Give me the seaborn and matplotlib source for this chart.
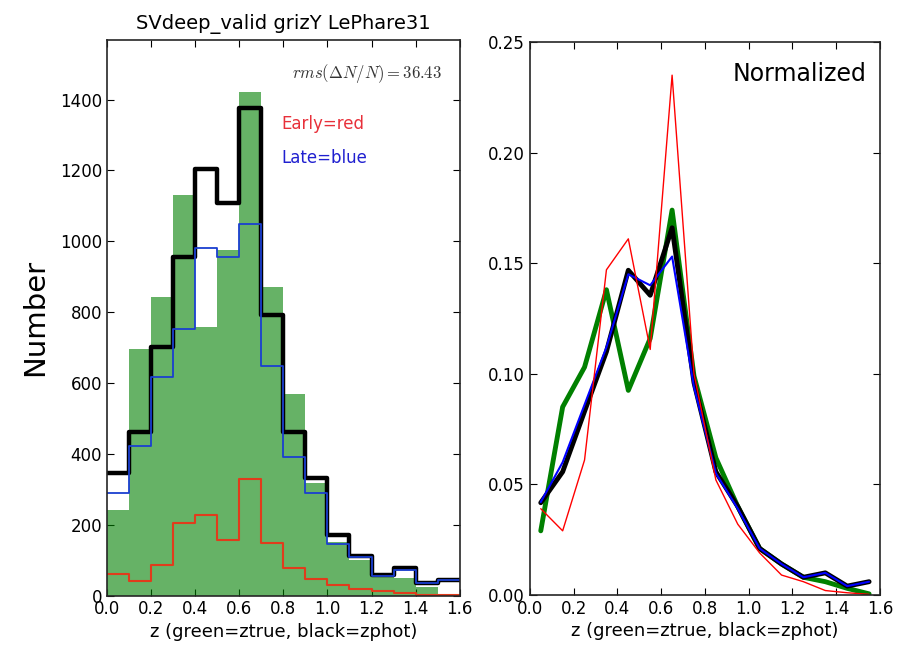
import numpy as np
import pandas as pd
import matplotlib
matplotlib.use("Agg")
import matplotlib.pyplot as plt
import seaborn as sns

# bins in redshift
edges = [0.0, 0.1, 0.2, 0.3, 0.4, 0.5, 0.6, 0.7, 0.8, 0.9, 1.0, 1.1, 1.2, 1.3, 1.4, 1.5, 1.6]
centers = [0.05, 0.15, 0.25, 0.35, 0.45, 0.55, 0.65, 0.75, 0.85, 0.95, 1.05, 1.15, 1.25, 1.35, 1.45, 1.55]

# left panel: counts per bin
n_true = [242, 697, 842, 1130, 758, 975, 1420, 870, 569, 318, 150, 100, 60, 50, 25, 0]
n_phot = [346, 462, 701, 955, 1205, 1107, 1375, 791, 462, 332, 172, 113, 59, 79, 37, 45]
n_late = [290, 422, 617, 752, 980, 955, 1050, 648, 392, 290, 146, 110, 54, 73, 36, 45]
n_early = [62, 42, 87, 205, 228, 158, 329, 149, 79, 48, 31, 20, 14, 8, 3, 1]

# right panel: normalized
f_true = [0.029, 0.085, 0.103, 0.138, 0.0925, 0.116, 0.174, 0.099, 0.062, 0.040, 0.021, 0.014, 0.008, 0.006, 0.003, 0.0005]
f_phot = [0.0417, 0.0557, 0.083, 0.110, 0.1468, 0.1355, 0.166, 0.096, 0.0557, 0.040, 0.021, 0.014, 0.008, 0.010, 0.004, 0.006]
f_late = [0.042, 0.060, 0.086, 0.112, 0.145, 0.140, 0.153, 0.094, 0.055, 0.039, 0.021, 0.014, 0.008, 0.010, 0.004, 0.006]
f_early = [0.039, 0.029, 0.061, 0.147, 0.161, 0.111, 0.235, 0.100, 0.052, 0.032, 0.019, 0.009, 0.006, 0.002, 0.001, 0.0003]

sns.set_style("ticks")
plt.rcParams['font.family'] = ['DejaVu Sans']
plt.rcParams['xtick.direction'] = 'in'
plt.rcParams['ytick.direction'] = 'in'
plt.rcParams['xtick.top'] = True
plt.rcParams['ytick.right'] = True
plt.rcParams['xtick.major.size'] = 5
plt.rcParams['ytick.major.size'] = 5
plt.rcParams['xtick.color'] = 'black'
plt.rcParams['ytick.color'] = 'black'
plt.rcParams['axes.labelcolor'] = 'black'
plt.rcParams['text.color'] = 'black'
plt.rcParams['axes.linewidth'] = 1.2

df = pd.DataFrame({'z': centers, 'true': n_true, 'phot': n_phot,
                   'late': n_late, 'early': n_early,
                   'ftrue': f_true, 'fphot': f_phot, 'flate': f_late, 'fearly': f_early})

fig = plt.figure(figsize=(8.98, 6.46), dpi=100)
ax1 = fig.add_axes([0.119, 0.078, 0.393, 0.860])
ax2 = fig.add_axes([0.590, 0.079, 0.390, 0.856])

# Left: histograms
sns.histplot(data=df, x='z', weights='true', bins=edges, element='bars',
             color='green', alpha=0.6, linewidth=0, ax=ax1)
sns.histplot(data=df, x='z', weights='early', bins=edges, element='step',
             fill=False, color='#e03c1c', linewidth=1.5, ax=ax1)
sns.histplot(data=df, x='z', weights='phot', bins=edges, element='step',
             fill=False, color='black', linewidth=3.2, ax=ax1)
sns.histplot(data=df, x='z', weights='late', bins=edges, element='step',
             fill=False, color='#1a3fd0', linewidth=1.3, ax=ax1)
ax1.set_xlim(0, 1.6)
ax1.set_ylim(0, 1568)
ax1.set_yticks(range(0, 1401, 200))
ax1.set_xticks(np.arange(0, 1.61, 0.2))
ax1.set_xticklabels(['%.1f' % t for t in np.arange(0, 1.61, 0.2)])
ax1.set_title('SVdeep_valid grizY LePhare31', fontsize=14, pad=8)
ax1.set_xlabel('z (green=ztrue, black=zphot)', fontsize=13, labelpad=3)
ax1.set_ylabel('Number', fontsize=21, labelpad=8)
ax1.tick_params(labelsize=12)
ax1.text(1.52, 1473, r'$rms(\Delta N/N)=36.43$', ha='right', va='center',
         fontsize=12, math_fontfamily='cm', color='#333333')
ax1.text(0.79, 1332, 'Early=red', color='#e8303a', fontsize=12, va='center')
ax1.text(0.79, 1234, 'Late=blue', color='#2020d0', fontsize=12, va='center')

# Right: normalized curves
sns.lineplot(data=df, x='z', y='ftrue', color='green', linewidth=3.5, ax=ax2)
sns.lineplot(data=df, x='z', y='fphot', color='black', linewidth=3.5, ax=ax2)
sns.lineplot(data=df, x='z', y='flate', color='blue', linewidth=1.5, ax=ax2)
sns.lineplot(data=df, x='z', y='fearly', color='red', linewidth=1.0, ax=ax2)
ax2.set_xlim(0, 1.6)
ax2.set_ylim(0, 0.25)
ax2.set_yticks(np.arange(0, 0.251, 0.05))
ax2.set_yticklabels(['%.2f' % t for t in np.arange(0, 0.251, 0.05)])
ax2.set_xticks(np.arange(0, 1.61, 0.2))
ax2.set_xticklabels(['%.1f' % t for t in np.arange(0, 1.61, 0.2)])
ax2.set_xlabel('z (green=ztrue, black=zphot)', fontsize=13, labelpad=3)
ax2.set_ylabel('')
ax2.tick_params(labelsize=12)
ax2.text(0.96, 0.942, 'Normalized', transform=ax2.transAxes, ha='right',
         va='center', fontsize=17)

fig.savefig('out.png', dpi=100)
